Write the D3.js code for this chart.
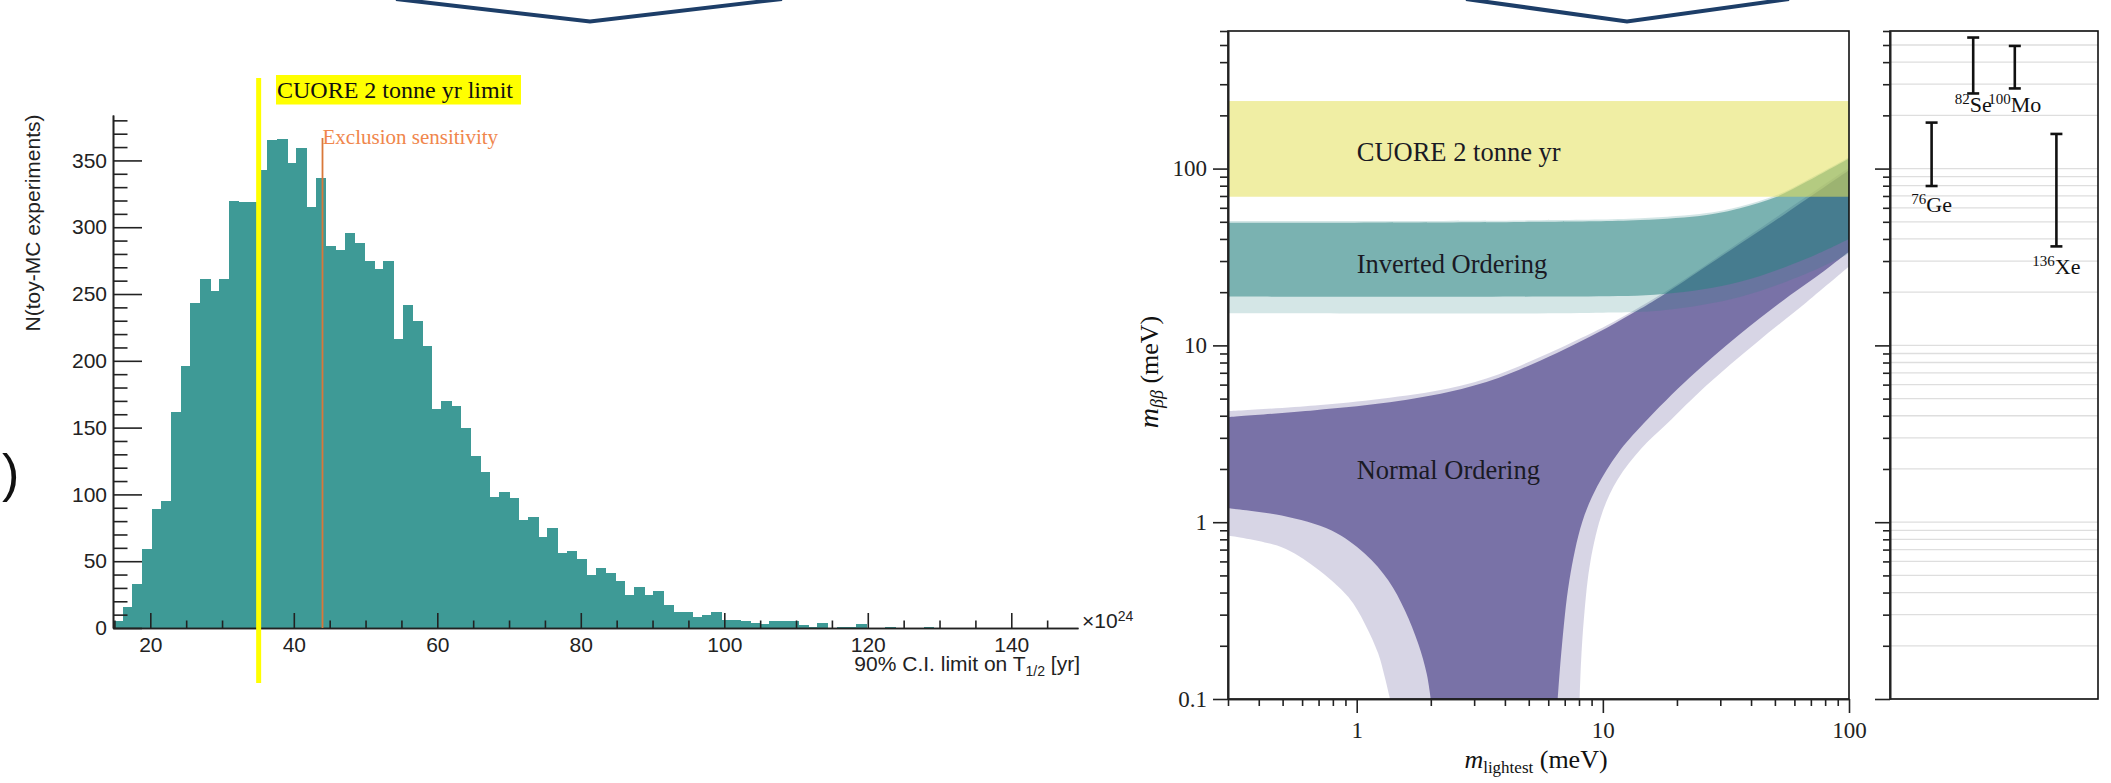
<!DOCTYPE html>
<html><head><meta charset="utf-8">
<script src="https://cdn.jsdelivr.net/npm/d3@7"></script>
<style>body{margin:0;background:#fff}svg{display:block}</style>
</head><body>
<svg id="c" width="2111" height="783"></svg>
<script>
// ---------------- data : toy-MC histogram ----------------
const histLo = 14.8, histHi = 149.3;
const histCounts = [5,16,33,59,89,95,162,196,243,261, 252,261,320,319,319,343,365,366,348,359,
  315,337,286,283,296,288,275,269,275,216, 242,230,211,164,170,166,150,129,117,98,
  102,97,81,83,68,75,56,58,52,40, 45,41,35,25,31,25,28,17,12,12,
  8,10,12,6,6,5,4,3,5,5, 5,2,1,4,0,1,1,3,0,0, 1,0,0,0,1,0,0,0,0,0, 0,0,0,0,0,0,0,0,0,0];
const histXTicks = [20,40,60,80,100,120,140];
const histYTicks = [0,50,100,150,200,250,300,350];
const cuoreLimit = 35.1;
const exclusionSens = 44.0;

// ---------------- data : m_bb vs m_lightest ----------------
const cuoreBand = [69.3, 241];
const noOuterUpper = [[0.3,4.24],[0.677,4.57],[1.26,4.99],[2.36,5.7],[3.76,6.85],[5.56,8.6],[7.59,10.5],[10.4,13.0],[17.6,19.8],[36.1,38.6],[100,101]];
const noOuterLowerRight = [[100,27.9],[67.4,17.6],[42.2,10.4],[26.4,5.95],[18.2,3.6],[14.3,2.6],[11.5,1.75],[9.98,1.15],[8.9,0.6],[8.4,0.3],[8.15,0.16],[8.05,0.1]];
const noOuterLowerLeft = [[1.366,0.1],[1.30,0.133],[1.224,0.18],[1.08,0.266],[0.925,0.377],[0.677,0.557],[0.496,0.722],[0.3,0.841]];
const noBestUpper = [[0.3,3.93],[0.677,4.3],[1.26,4.7],[2.36,5.45],[3.76,6.55],[5.56,8.2],[7.59,10.05],[10.4,12.6],[14.2,16.1],[17.6,19.3],[26.4,28.1],[36.1,37.6],[49.3,50],[67.4,67.3],[100,98]];
const noBestLowerRight = [[100,33.9],[78.7,26.2],[57.6,19.2],[36.1,11.6],[22.6,6.6],[14.6,3.6],[11.5,2.45],[9.5,1.6],[8.24,1.0],[7.31,0.468],[6.81,0.196],[6.56,0.1]];
const noBestLowerLeft = [[2.0,0.1],[1.925,0.139],[1.78,0.205],[1.57,0.317],[1.345,0.468],[1.08,0.663],[0.791,0.897],[0.496,1.09],[0.3,1.2]];
const ioOuterUpper = [[0.3,50.5],[5.56,51],[14.2,52.3],[26.4,56],[36.1,61],[50.9,70.8],[67.4,86],[100,116]];
const ioOuterLower = [[100,33],[67.4,25.5],[36.1,18.8],[17.6,15.8],[10,15.3],[0.3,15.2]];
const ioBestUpper = [[0.3,49.4],[5.56,50],[14.2,51.2],[26.4,54.7],[36.1,59.7],[50.9,69.3],[67.4,84.4],[100,114]];
const ioBestLower = [[100,40],[67.4,31],[36.1,22.9],[17.6,19.5],[5.56,18.9],[0.3,18.9]];
const regionLabels = ["CUORE 2 tonne yr","Inverted Ordering","Normal Ordering"];
const regionLabelAt = [[1,110],[1,25.8],[1,1.75]];
const mbbMajor = [0.1,1,10,100];
const mlMajor = [1,10,100];

// ---------------- data : isotope panel ----------------
const isoMass = ["76","82","100","136"];
const isoSym = ["Ge","Se","Mo","Xe"];
const isoLow = [79.7, 266, 284, 36.3];
const isoHigh = [182, 551, 494, 157];
const isoLabelAt = [56.8, 209, 209, 25.3];

const svg = d3.select("#c");
const sans = "'Liberation Sans', Arial, sans-serif";
const serif = "'Liberation Serif', 'Times New Roman', serif";

// ---------- decorative chevrons ----------
const navy = "#1d3e68";
[[[396,-1],[590,21.5],[782,-1]], [[1466,-1],[1627,21.5],[1789,-1]]].forEach(p=>{
  svg.append("path").attr("d", d3.line()(p)).attr("fill","none")
    .attr("stroke", navy).attr("stroke-width", 4).attr("stroke-linejoin","miter");
});
svg.append("text").attr("x",2).attr("y",491).attr("font-family",sans).attr("font-size",52)
  .attr("fill","#111").text(")");

// ---------- histogram ----------
const hx = d3.scaleLinear().domain([histLo, histHi]).range([113, 1078]);
const hy = d3.scaleLinear().domain([0, 384]).range([628, 115]);
const bw = (histHi - histLo) / histCounts.length;
const hg = svg.append("g");
hg.selectAll("rect").data(histCounts).join("rect")
  .attr("x", (d,i)=>hx(histLo + i*bw))
  .attr("width", (d,i)=>hx(histLo+(i+1)*bw) - hx(histLo+i*bw) + 1)
  .attr("y", d=>hy(d)).attr("height", d=>hy(0)-hy(d))
  .attr("fill", "#3e9a96").attr("shape-rendering","crispEdges");

function styleAxis(g, font, size){
  g.attr("font-family", font).attr("font-size", size);
  g.selectAll("path.domain").attr("stroke","#222").attr("stroke-width",1.6);
  g.selectAll(".tick line").attr("stroke","#222").attr("stroke-width",1.6);
  g.selectAll(".tick text").attr("fill","#222");
}
const hYminor = d3.range(0, 384, 10).filter(v=>v%50!==0);
const hXminor = d3.range(15, 150, 5).filter(v=>v%20!==0);
styleAxis(hg.append("g").attr("transform","translate(113,0)")
  .call(d3.axisLeft(hy).tickValues(hYminor).tickSize(-14.5).tickSizeOuter(0).tickFormat("")), sans, 21);
styleAxis(hg.append("g").attr("transform","translate(113,0)")
  .call(d3.axisLeft(hy).tickValues(histYTicks).tickSize(-29).tickSizeOuter(0).tickPadding(6)), sans, 21);
styleAxis(hg.append("g").attr("transform","translate(0,628)")
  .call(d3.axisBottom(hx).tickValues(hXminor).tickSize(-7.5).tickSizeOuter(0).tickFormat("")), sans, 21);
styleAxis(hg.append("g").attr("transform","translate(0,628)")
  .call(d3.axisBottom(hx).tickValues(histXTicks).tickSize(-15).tickSizeOuter(0).tickPadding(9)), sans, 21);

hg.append("text").attr("transform","translate(40,223) rotate(-90)").attr("text-anchor","middle")
  .attr("font-family",sans).attr("font-size",21).attr("fill","#222").text("N(toy-MC experiments)");
const xt = hg.append("text").attr("x",1080).attr("y",671).attr("text-anchor","end")
  .attr("font-family",sans).attr("font-size",21).attr("fill","#222");
xt.append("tspan").text("90% C.I. limit on T");
xt.append("tspan").attr("font-size",14).attr("dy",5).text("1/2");
xt.append("tspan").attr("dy",-5).text(" [yr]");
const xe = hg.append("text").attr("x",1082).attr("y",628).attr("font-family",sans)
  .attr("font-size",21).attr("fill","#222");
xe.append("tspan").text("\u00d710");
xe.append("tspan").attr("font-size",14).attr("dy",-7).text("24");

// yellow limit line + label
hg.append("line").attr("x1",hx(cuoreLimit)).attr("x2",hx(cuoreLimit)).attr("y1",78).attr("y2",683)
  .attr("stroke","#ffff00").attr("stroke-width",5);
hg.append("rect").attr("x",276).attr("y",75).attr("width",245).attr("height",29.5).attr("fill","#ffff00");
hg.append("text").attr("x",277).attr("y",98).attr("font-family",serif).attr("font-size",24)
  .attr("fill","#111").text("CUORE 2 tonne yr limit");
// exclusion sensitivity
hg.append("line").attr("x1",hx(exclusionSens)).attr("x2",hx(exclusionSens)).attr("y1",138).attr("y2",628)
  .attr("stroke","#d9783a").attr("stroke-width",1.8);
hg.append("text").attr("x",hx(exclusionSens)).attr("y",143.5).attr("font-family",serif).attr("font-size",21)
  .attr("fill","#f0864c").text("Exclusion sensitivity");

// ---------- m_bb plot ----------
const L=1228, R=1849, T=31, B=699;
const mx = d3.scaleLog().domain([0.3,100]).range([L,R]);
const my = d3.scaleLog().domain([0.1,600]).range([B,T]);
const defs = svg.append("defs");
defs.append("clipPath").attr("id","clipM").append("rect").attr("x",L).attr("y",T).attr("width",R-L).attr("height",B-T);
const pg = svg.append("g").attr("clip-path","url(#clipM)");
const lg = d3.line().x(d=>mx(d[0])).y(d=>my(d[1])).curve(d3.curveCatmullRom.alpha(0.5));
function region(...segs){
  return segs.map((s,i)=>{ const p = lg(s); return i ? p.replace(/^M/,"L") : p; }).join("") + "Z";
}
const purple = "rgb(68,57,131)", teal = "rgb(40,130,128)";
pg.append("path").attr("d", region(noOuterUpper, noOuterLowerRight, noOuterLowerLeft)).attr("fill",purple).attr("fill-opacity",0.21);
pg.append("path").attr("d", region(noBestUpper, noBestLowerRight, noBestLowerLeft)).attr("fill",purple).attr("fill-opacity",0.635);
pg.append("path").attr("d", region(ioOuterUpper, ioOuterLower)).attr("fill",teal).attr("fill-opacity",0.2);
pg.append("path").attr("d", region(ioBestUpper, ioBestLower)).attr("fill",teal).attr("fill-opacity",0.52);
pg.append("rect").attr("x",L).attr("width",R-L).attr("y",my(cuoreBand[1])).attr("height",my(cuoreBand[0])-my(cuoreBand[1]))
  .attr("fill","rgb(227,224,90)").attr("fill-opacity",0.55);

svg.append("g").selectAll("text").data(regionLabels).join("text")
  .attr("x",(d,i)=>mx(regionLabelAt[i][0])).attr("y",(d,i)=>my(regionLabelAt[i][1]))
  .attr("font-family",serif).attr("font-size",26.5).attr("fill","#1a1a24").text(d=>d);

svg.append("rect").attr("x",L).attr("y",T).attr("width",R-L).attr("height",B-T)
  .attr("fill","none").attr("stroke","#111").attr("stroke-width",1.6);
const yMinor = my.ticks().filter(v=>!mbbMajor.some(m=>Math.abs(m-v)<1e-9));
const xMinor = mx.ticks().filter(v=>!mlMajor.some(m=>Math.abs(m-v)<1e-9));
const fmtL = d=>String(d);
styleAxis(svg.append("g").attr("transform",`translate(${L},0)`)
  .call(d3.axisLeft(my).tickValues(yMinor).tickSize(8).tickSizeOuter(0).tickFormat("")), serif, 23);
styleAxis(svg.append("g").attr("transform",`translate(${L},0)`)
  .call(d3.axisLeft(my).tickValues(mbbMajor).tickSize(15).tickSizeOuter(0).tickPadding(6).tickFormat(fmtL)), serif, 23);
styleAxis(svg.append("g").attr("transform",`translate(0,${B})`)
  .call(d3.axisBottom(mx).tickValues(xMinor).tickSize(7).tickSizeOuter(0).tickFormat("")), serif, 23);
styleAxis(svg.append("g").attr("transform",`translate(0,${B})`)
  .call(d3.axisBottom(mx).tickValues(mlMajor).tickSize(14).tickSizeOuter(0).tickPadding(9).tickFormat(fmtL)), serif, 23);

const xl = svg.append("text").attr("x",1536).attr("y",768).attr("text-anchor","middle")
  .attr("font-family",serif).attr("font-size",26).attr("fill","#111");
xl.append("tspan").attr("font-style","italic").text("m");
xl.append("tspan").attr("font-size",17).attr("dy",5).text("lightest");
xl.append("tspan").attr("dy",-5).text(" (meV)");
const yl = svg.append("text").attr("transform","translate(1158,372) rotate(-90)").attr("text-anchor","middle")
  .attr("font-family",serif).attr("font-size",26).attr("fill","#111");
yl.append("tspan").attr("font-style","italic").attr("font-size",28).text("m");
yl.append("tspan").attr("font-style","italic").attr("font-size",18).attr("dy",5).text("\u03b2\u03b2");
yl.append("tspan").attr("dy",-5).text(" (meV)");

// ---------- isotope panel ----------
const L2 = 1890, R2 = 2098;
const ix = d3.scalePoint().domain(isoSym).range([L2,R2]).padding(1);
const ig = svg.append("g");
ig.selectAll("line.grid").data(my.ticks()).join("line").attr("class","grid")
  .attr("x1",L2).attr("x2",R2).attr("y1",d=>my(d)).attr("y2",d=>my(d))
  .attr("stroke","#dedede").attr("stroke-width",1.3);
ig.append("rect").attr("x",L2).attr("y",T).attr("width",R2-L2).attr("height",B-T)
  .attr("fill","none").attr("stroke","#111").attr("stroke-width",1.6);
styleAxis(ig.append("g").attr("transform",`translate(${L2},0)`)
  .call(d3.axisLeft(my).tickValues(yMinor).tickSize(7).tickSizeOuter(0).tickFormat("")), serif, 23);
styleAxis(ig.append("g").attr("transform",`translate(${L2},0)`)
  .call(d3.axisLeft(my).tickValues(mbbMajor).tickSize(15).tickSizeOuter(0).tickFormat("")), serif, 23);
isoSym.forEach((s,i)=>{
  const x = ix(s);
  ig.append("line").attr("x1",x).attr("x2",x).attr("y1",my(isoLow[i])).attr("y2",my(isoHigh[i])).attr("stroke","#111").attr("stroke-width",2.6);
  [isoLow[i], isoHigh[i]].forEach(v=>ig.append("line").attr("x1",x-6).attr("x2",x+6).attr("y1",my(v)).attr("y2",my(v)).attr("stroke","#111").attr("stroke-width",2.6));
  const t = ig.append("text").attr("x",x).attr("y",my(isoLabelAt[i])).attr("text-anchor","middle")
    .attr("font-family",serif).attr("font-size",22).attr("fill","#111");
  t.append("tspan").attr("font-size",15).attr("dy",-8).text(isoMass[i]);
  t.append("tspan").attr("dy",8).text(s);
});
</script>
</body></html>
